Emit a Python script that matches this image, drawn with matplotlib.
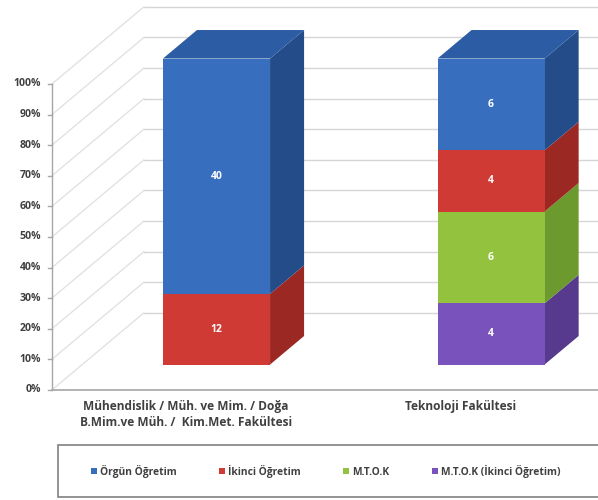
import numpy as np
import matplotlib.pyplot as plt
from matplotlib.patches import Polygon, Rectangle, Patch

# chart data
categories = ["Mühendislik / Müh. ve Mim. / Doğa\nB.Mim.ve Müh. /  Kim.Met. Fakültesi",
              "Teknoloji Fakültesi"]
series_names = ["Örgün Öğretim", "İkinci Öğretim", "M.T.O.K", "M.T.O.K (İkinci Öğretim)"]
# student counts, bottom to top stacking order is reversed (Örgün on top)
orgun = [40, 6]
ikinci = [12, 4]
mtok = [0, 6]
mtok_ikinci = [0, 4]
y_ticks = [0, 10, 20, 30, 40, 50, 60, 70, 80, 90, 100]
y_tick_labels = ["0%", "10%", "20%", "30%", "40%", "50%", "60%", "70%", "80%", "90%", "100%"]

front_colors = ["#376EBE", "#D03A35", "#93C23E", "#7A52BC"]
side_colors = ["#244C88", "#9C2824", "#6D9A2E", "#573A8E"]
top_colors = ["#2C5CA4", "#B0302C", "#7FAA34", "#684599"]

# fake 3d: depth moves things right and up
DX = 0.335
DY = 25.2
D_FRONT = 0.33
D_BACK = 0.70
WALL_X = -0.489
BAR_W = 0.39

plt.rcParams['font.family'] = ['Open Sans', 'DejaVu Sans']

fig = plt.figure(figsize=(5.98, 5.0), dpi=100)
ax = fig.add_axes([0, 0, 1, 1])
ax.set_xlim(-0.678, 1.500)
ax.set_ylim(-35.95, 127.45)
ax.axis('off')

grid_col = "#d6d6d6"
# back wall gridlines and side wall diagonals
for p in y_ticks:
    ax.plot([WALL_X + DX, 1.6], [p + DY, p + DY], color=grid_col, lw=1.0, zorder=1)
    ax.plot([WALL_X, WALL_X + DX], [p, p + DY], color="#e2e2e2", lw=1.0, zorder=1)

# front axis line, ticks and floor edge
ax.plot([WALL_X, WALL_X], [0, 100], color="#a6a6a6", lw=1.0, zorder=2)
ax.plot([WALL_X, 1.6], [0, 0], color="#a6a6a6", lw=1.2, zorder=2)
for p, lab in zip(y_ticks, y_tick_labels):
    ax.plot([WALL_X - 0.015, WALL_X], [p, p], color="#a6a6a6", lw=1.0, zorder=2)
    ax.text(WALL_X - 0.04, p, lab, ha='right', va='center', fontsize=7.6,
            fontweight='bold', color="#404040")

series = [orgun, ikinci, mtok, mtok_ikinci]
x = np.arange(len(categories))
totals = np.sum(series, axis=0)
fx = x + D_FRONT * DX
fy0 = D_FRONT * DY
ddx = (D_BACK - D_FRONT) * DX
ddy = (D_BACK - D_FRONT) * DY

for i in range(len(categories)):
    # stack from the last series at the bottom up to Örgün at the top
    bottom = 0.0
    for s in range(len(series) - 1, -1, -1):
        v = series[s][i]
        if v == 0:
            continue
        h = v / totals[i] * 100
        b = fy0 + bottom
        ax.bar(fx[i], h, bottom=b, width=BAR_W, color=front_colors[s], zorder=5)
        xr = fx[i] + BAR_W / 2
        side = Polygon([(xr, b), (xr + ddx, b + ddy), (xr + ddx, b + h + ddy), (xr, b + h)],
                       closed=True, facecolor=side_colors[s], edgecolor='none', zorder=4)
        ax.add_patch(side)
        ax.text(fx[i], b + h / 2, str(v), ha='center', va='center', fontsize=7.5,
                fontweight='bold', color='white', zorder=6)
        bottom += h
    # top face
    xl = fx[i] - BAR_W / 2
    xr = fx[i] + BAR_W / 2
    t = fy0 + bottom
    top = Polygon([(xl, t), (xl + ddx, t + ddy), (xr + ddx, t + ddy), (xr, t)],
                  closed=True, facecolor=top_colors[0], edgecolor='none', zorder=4)
    ax.add_patch(top)

# category labels under the floor
for i, lab in enumerate(categories):
    ax.text(x[i], -3.3, lab, ha='center', va='top', fontsize=8.6, fontweight='bold',
            color="#404040", linespacing=1.3)

# legend box
fig.patches.append(Rectangle((0.097, 0.006), 0.95, 0.104, transform=fig.transFigure,
                             facecolor='white', edgecolor='#808080', lw=1.2))
handles = [Patch(facecolor=c) for c in front_colors]
fig.legend(handles, series_names, loc='center left', bbox_to_anchor=(0.152, 0.058),
           ncol=4, frameon=False, handlelength=0.6, handleheight=0.6,
           handletextpad=0.3, columnspacing=4.1, borderpad=0, borderaxespad=0,
           prop={'weight': 'bold', 'size': 7.4})
for t in fig.legends[0].get_texts():
    t.set_color("#404040")

fig.savefig("out.png", dpi=100)
